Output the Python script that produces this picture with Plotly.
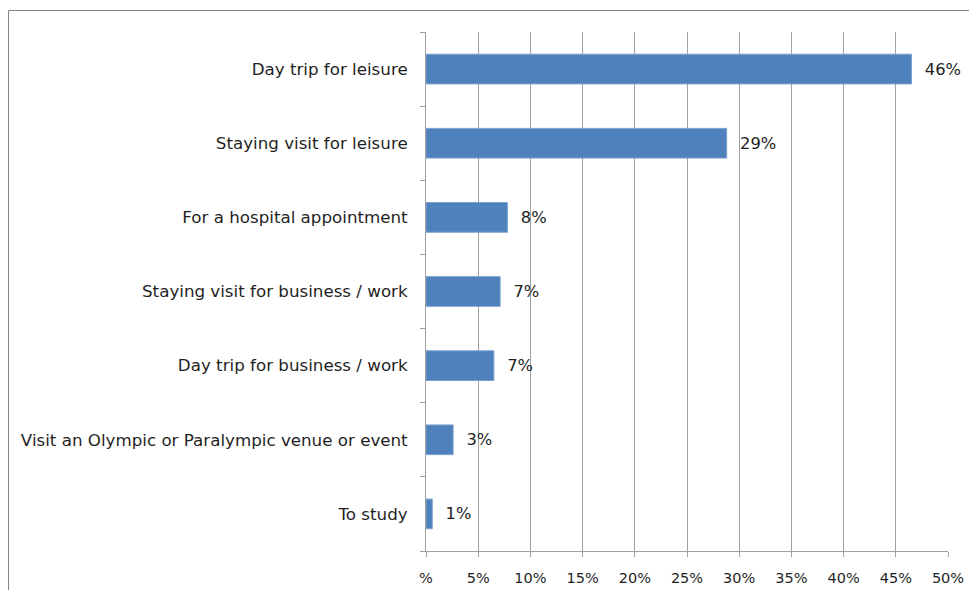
import plotly.graph_objs as go

categories = [
    "Day trip for leisure",
    "Staying visit for leisure",
    "For a hospital appointment",
    "Staying visit for business / work",
    "Day trip for business / work",
    "Visit an Olympic or Paralympic venue or event",
    "To study",
]
values = [46.5, 28.8, 7.8, 7.1, 6.5, 2.6, 0.6]
value_labels = ["46%", "29%", "8%", "7%", "7%", "3%", "1%"]
tick_vals = [0, 5, 10, 15, 20, 25, 30, 35, 40, 45, 50]
tick_text = ["%", "5%", "10%", "15%", "20%", "25%", "30%", "35%", "40%", "45%", "50%"]

font_family = "DejaVu Sans, Verdana, sans-serif"

fig = go.Figure()
fig.add_trace(
    go.Bar(
        y=categories,
        x=values,
        orientation='h',
        text=value_labels,
        texttemplate='  %{text}',
        textposition='outside',
        cliponaxis=False,
        textfont=dict(size=16.3, color='#1F1F1F', family=font_family),
        marker=dict(color='#4F81BD', line=dict(color='#7BA0CD', width=1)),
    )
)

# the page body adds an 8px offset, so the figure is sized to fit the window
W, H = 961, 582
ml, mr, mt, mb = 418, 21, 24, 39
pw, ph = W - ml - mr, H - mt - mb

fig.update_layout(
    width=W,
    height=H,
    margin=dict(l=ml, r=mr, t=mt, b=mb, autoexpand=False),
    paper_bgcolor='white',
    plot_bgcolor='white',
    showlegend=False,
    bargap=0.6,
    font=dict(family=font_family, size=16, color='#1F1F1F'),
    xaxis=dict(
        range=[0, 50],
        tickvals=tick_vals,
        ticktext=tick_text,
        showgrid=True,
        gridcolor='#A0A0A0',
        gridwidth=1,
        showline=True,
        linecolor='#A0A0A0',
        ticks='outside',
        ticklen=5,
        tickcolor='#A0A0A0',
        zeroline=False,
        tickfont=dict(size=14.5),
        ticklabelstandoff=9,
        automargin=False,
    ),
    yaxis=dict(
        categoryorder='array',
        categoryarray=categories[::-1],
        showline=True,
        linecolor='#A0A0A0',
        ticks='outside',
        tickson='boundaries',
        ticklen=5,
        tickcolor='#A0A0A0',
        showgrid=False,
        tickfont=dict(size=16.7),
        ticklabelstandoff=14,
        automargin=False,
    ),
    shapes=[
        # outer frame: only the top and left edges are visible
        dict(
            type='line', xref='paper', yref='paper',
            x0=(0.5 - ml) / pw, x1=(W - ml) / pw,
            y0=(H - mb - 2.5) / ph, y1=(H - mb - 2.5) / ph,
            line=dict(color='#868686', width=1),
        ),
        dict(
            type='line', xref='paper', yref='paper',
            x0=(0.5 - ml) / pw, x1=(0.5 - ml) / pw,
            y0=(H - mb - 2.5) / ph, y1=-mb / ph,
            line=dict(color='#868686', width=1),
        ),
    ],
)

fig.write_html("out.html")
